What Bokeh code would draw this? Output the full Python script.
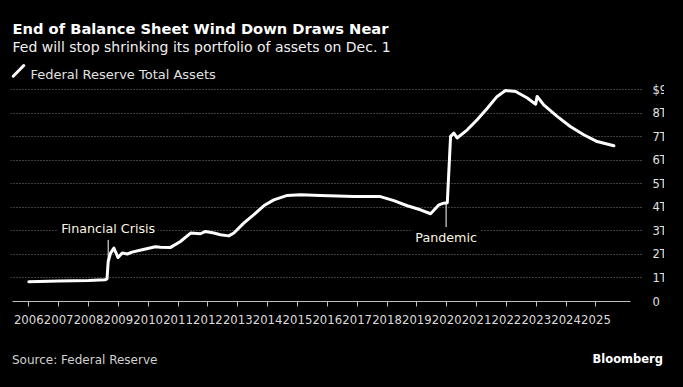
from bokeh.plotting import figure
from bokeh.layouts import column
from bokeh.models import Range1d, FixedTicker, Label, Div
from bokeh.embed import file_html
from bokeh.resources import INLINE

# ---- data ----
years = [2006.00, 2007.00, 2008.00, 2008.55, 2008.62, 2008.66, 2008.74, 2008.85,
         2008.99, 2009.13, 2009.30, 2009.46, 2009.80, 2010.24, 2010.41, 2010.75,
         2011.08, 2011.42, 2011.75, 2011.92, 2012.20, 2012.42, 2012.70, 2012.87,
         2013.20, 2013.54, 2013.87, 2014.21, 2014.66, 2015.10, 2015.77, 2016.89,
         2017.78, 2018.23, 2018.68, 2019.12, 2019.46, 2019.74, 2019.90, 2020.02,
         2020.13, 2020.24, 2020.35, 2020.69, 2021.02, 2021.36, 2021.69, 2021.97,
         2022.31, 2022.70, 2022.98, 2023.03, 2023.25, 2023.70, 2024.14, 2024.59,
         2025.04, 2025.60]
assets = [0.84, 0.87, 0.89, 0.92, 0.96, 1.70, 2.06, 2.27,
          1.87, 2.06, 2.02, 2.10, 2.20, 2.33, 2.31, 2.30,
          2.55, 2.91, 2.88, 2.98, 2.91, 2.84, 2.79, 2.91,
          3.33, 3.69, 4.07, 4.32, 4.51, 4.54, 4.51, 4.46,
          4.46, 4.29, 4.07, 3.90, 3.73, 4.11, 4.18, 4.20,
          7.02, 7.16, 6.95, 7.30, 7.73, 8.22, 8.72, 8.97,
          8.93, 8.65, 8.39, 8.72, 8.36, 7.87, 7.44, 7.09,
          6.80, 6.62]

tick_years = list(range(2006, 2026))
tick_labels = [str(y) for y in tick_years]
y_ticks = list(range(0, 10))
y_tick_labels = ["0", "1T", "2T", "3T", "4T", "5T", "6T", "7T", "8T", "$9T"]

event_names = ["Financial Crisis", "Pandemic"]
event_years = [2008.66, 2019.98]
event_levels = [1.70, 4.18]

# ---- layout / style constants ----
FONT = "DejaVu Sans"
W = 683
H1, H2 = 340, 47
ML, MR, MB = 10, 40, 39
PX_YEAR = 29.85
PX_T = 23.52
FRAME_BOTTOM = H1 - MB
x_start = 2006 - (28.3 - ML) / PX_YEAR
x_end = x_start + (W - ML - MR) / PX_YEAR
y_end = FRAME_BOTTOM / PX_T

# annotation placements (value units): label centre, connector end
label_centre = [3.12, 2.72]
connector_end = [2.62, 3.00]

p = figure(width=W, height=H1,
           x_range=Range1d(x_start, x_end), y_range=Range1d(0, y_end),
           output_backend="svg", toolbar_location=None, title=None,
           x_axis_location="below", y_axis_location="right",
           min_border_left=ML, min_border_right=MR,
           min_border_top=0, min_border_bottom=MB,
           background_fill_color="black", border_fill_color="black",
           outline_line_color=None)

# x axis
xa = p.xaxis[0]
xa.ticker = FixedTicker(ticks=tick_years)
xa.major_label_overrides = {y: l for y, l in zip(tick_years, tick_labels)}
xa.bounds = (2005.444, 2026.157)
xa.axis_line_color = "#c0c0c0"
xa.axis_line_width = 1
xa.major_tick_line_color = "#c0c0c0"
xa.major_tick_out = 5
xa.major_tick_in = 0
xa.minor_tick_out = 0
xa.minor_tick_in = 0
xa.major_label_text_font = FONT
xa.major_label_text_font_size = "11.7px"
xa.major_label_text_color = "#dcdcdc"
xa.major_label_standoff = 8

# y axis (right)
ya = p.yaxis[0]
ya.ticker = FixedTicker(ticks=y_ticks)
ya.major_label_overrides = {v: l for v, l in zip(y_ticks, y_tick_labels)}
ya.axis_line_color = None
ya.major_tick_line_color = None
ya.minor_tick_line_color = None
ya.major_tick_out = 0
ya.major_tick_in = 0
ya.minor_tick_out = 0
ya.minor_tick_in = 0
ya.major_label_text_font = FONT
ya.major_label_text_font_size = "11.5px"
ya.major_label_text_color = "#e0e0e0"
ya.major_label_standoff = 9

p.xgrid.visible = False
p.ygrid.ticker = FixedTicker(ticks=y_ticks)
p.ygrid.grid_line_color = "#7a7a7a"
p.ygrid.grid_line_dash = "1 2"
p.ygrid.grid_line_width = 1

# main series
p.line(years, assets, line_color="white", line_width=3,
       line_join="round", line_cap="round")

# event connectors
p.segment(x0=event_years, y0=event_levels, x1=event_years, y1=connector_end,
          line_color="white", line_width=1)

for name, yr, yc in zip(event_names, event_years, label_centre):
    p.add_layout(Label(x=yr, y=yc, text=name, text_align="center",
                       text_baseline="middle", text_font=FONT,
                       text_font_size="12.7px", text_color="#fbf6e4",
                       background_fill_color="black", padding=3))

# legend swatch (diagonal stroke), placed from pixel positions through the scales
def px_to_x(px):
    return x_start + (px - ML) / PX_YEAR

def px_to_y(py):
    return (FRAME_BOTTOM - py) / PX_T

p.segment(x0=[px_to_x(12.7)], y0=[px_to_y(75.7)], x1=[px_to_x(23.3)], y1=[px_to_y(65.0)],
          line_color="white", line_width=3, line_cap="round")

def add_text(fig, text, sx, sy, size, color, style="normal", align="left"):
    fig.add_layout(Label(x=sx, y=sy, x_units="screen", y_units="screen",
                         text=text, text_font=FONT, text_font_size=size,
                         text_font_style=style, text_color=color,
                         text_align=align, text_baseline="alphabetic"))

# header texts (screen units relative to the frame: x from left, y up from bottom)
add_text(p, "End of Balance Sheet Wind Down Draws Near", 12 - ML, FRAME_BOTTOM - 27.7, "14.7px", "#ffffff", "bold")
add_text(p, "Fed will stop shrinking its portfolio of assets on Dec. 1", 12 - ML, FRAME_BOTTOM - 46.7, "14px", "#f0f0f0")
add_text(p, "Federal Reserve Total Assets", 30 - ML, FRAME_BOTTOM - 74.3, "13px", "#e2e2e2")

# crop the right edge like the original image (cuts the axis labels)
p.styles = {"clip-path": "inset(0px 19px 0px 0px)"}

# footer strip
footer_html = (
    '<div style="position:relative;width:683px;height:47px;font-family:\'DejaVu Sans\';">'
    '<span style="position:absolute;left:12px;top:12px;font-size:12px;color:#d0d0d0;'
    'white-space:nowrap;">Source: Federal Reserve</span>'
    '<span style="position:absolute;right:20px;top:10.5px;font-size:11.5px;font-weight:bold;'
    'color:#ffffff;white-space:nowrap;">Bloomberg</span>'
    '</div>'
)
footer = Div(text=footer_html, width=W, height=H2, margin=(0, 0, 0, 0),
             styles={"background-color": "black"})

layout = column(p, footer, styles={"background-color": "black"})

open("out.html", "w").write(file_html(layout, INLINE))
